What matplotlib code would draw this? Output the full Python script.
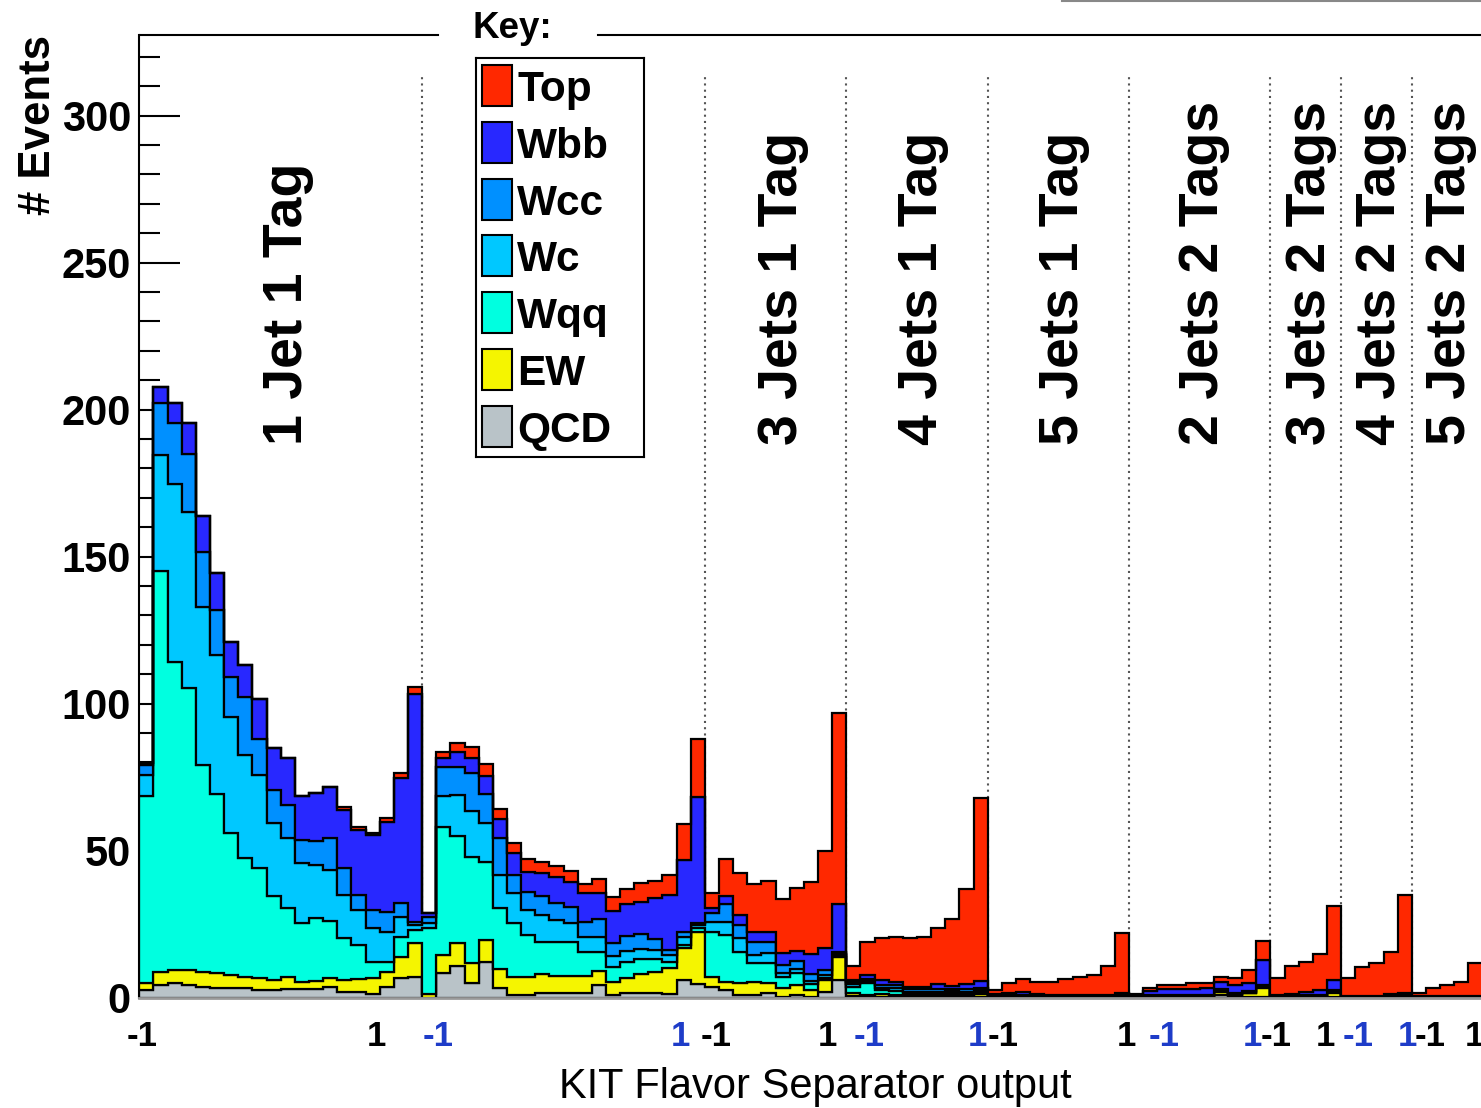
import numpy as np
import matplotlib.pyplot as plt
from matplotlib.lines import Line2D
from matplotlib.patches import Rectangle
from matplotlib.ticker import MultipleLocator

plt.rcParams['font.family'] = ['Liberation Sans', 'DejaVu Sans']

# stacked components, one value per bin (95 bins, 9 jet/tag regions)
qcd = [2.5, 4.2, 4.8, 4.2, 3.7, 3.4, 3.1, 3.1, 2.5, 2.5, 2.8, 2.8, 2.8, 3.6, 1.9, 1.9, 1.2, 3.7, 6.5, 7.1,
       0, 8.2, 10.7, 4.8, 12.2, 3.1, 0.8, 0.8, 1.4, 1.4, 1.4, 1.4, 4.3, 0.8, 1.4, 1.6, 1.6, 1.2, 5.9, 4.6,
       3.6, 2.5, 0.8, 0.8, 1.4, 0.3, 0.8, 0.3, 1.9, 5.9,
       0.5, 0.3, 0.2, 0.2, 0.1, 0.1, 0.1, 0.2, 0.1, 0.3,
       0.1, 0.1, 0.1, 0.1, 0.1, 0.1, 0.1, 0.1, 0.1, 0.1,
       0.1, 0.1, 0.1, 0.1, 0.1, 0.1, 1.0, 0.1, 0.1, 0.2,
       0.05, 0.1, 0.1, 0.1, 0.2,
       0.05, 0.05, 0.05, 0.1, 0.1,
       0.05, 0.05, 0.05, 0.05, 0.05]
ew = [2.3, 4.6, 4.5, 5.1, 5.1, 5.0, 4.5, 4.0, 4.0, 3.5, 4.3, 2.6, 2.8, 3.1, 4.0, 4.3, 5.3, 5.1, 7.4, 11.5,
      1.2, 6.2, 7.9, 6.8, 7.3, 6.5, 6.3, 6.3, 6.6, 5.9, 5.9, 5.9, 4.8, 4.6, 5.1, 6.4, 7.2, 8.7, 11.1, 17.8,
      3.5, 2.9, 4.0, 4.6, 3.4, 3.0, 3.4, 2.2, 4.0, 8.0,
      0.9, 0.7, 1.0, 0.8, 0.4, 0.4, 0.4, 0.8, 0.4, 0.9,
      0.15, 0.15, 0.15, 0.15, 0.15, 0.15, 0.15, 0.15, 0.15, 0.15,
      0.15, 0.2, 0.2, 0.2, 0.2, 0.2, 1.0, 0.7, 1.3, 2.9,
      0.1, 0.2, 0.2, 0.2, 1.4,
      0.05, 0.05, 0.05, 0.2, 0.2,
      0.05, 0.05, 0.05, 0.05, 0.05]
wqq = [63.7, 136.4, 104.9, 95.9, 70.3, 60.8, 48.5, 40.5, 37.7, 28.6, 23.4, 20.1, 21.3, 19.4, 14.2, 11.7, 5.7, 3.4, 6.6, 4.4,
       22.3, 43.7, 36.3, 36.3, 26.7, 20.7, 18.1, 14.1, 11.0, 11.7, 11.7, 8.3, 6.5, 5.1, 5.5, 5.0, 4.2, 2.3, 0.8, 1.2,
       15.3, 15.9, 10.8, 6.4, 7.0, 3.7, 4.0, 2.0, 0.6, 0.5,
       2.1, 3.8, 1.2, 1.2, 0.7, 0.7, 0.7, 0.5, 0.7, 0.8,
       0.15, 0.15, 0.15, 0.15, 0.15, 0.15, 0.15, 0.15, 0.15, 0.15,
       0.15, 0.15, 0.2, 0.2, 0.2, 0.2, 0.3, 0.2, 0.3, 0.4,
       0.15, 0.2, 0.2, 0.2, 0.3,
       0.1, 0.1, 0.1, 0.2, 0.2,
       0.1, 0.1, 0.1, 0.1, 0.1]
wc = [7.2, 39.3, 60.3, 60.0, 53.8, 47.3, 39.4, 34.9, 31.5, 24.6, 23.6, 20.1, 18.2, 17.3, 14.7, 11.9, 11.3, 10.2, 7.0, 1.7,
      1.7, 10.4, 14.0, 15.7, 13.0, 11.4, 10.2, 8.6, 9.1, 7.4, 6.2, 5.1, 5.1, 3.6, 3.8, 3.5, 3.0, 2.3, 2.9, 0.9,
      3.4, 4.5, 4.5, 2.6, 3.2, 1.5, 1.6, 1.0, 1.0, 0.5,
      1.1, 0.7, 1.0, 1.0, 0.8, 0.8, 0.8, 0.7, 0.8, 0.6,
      0.15, 0.15, 0.15, 0.15, 0.15, 0.15, 0.15, 0.15, 0.15, 0.15,
      0.15, 0.15, 0.2, 0.2, 0.2, 0.2, 0.3, 0.2, 0.2, 0.3,
      0.15, 0.2, 0.1, 0.2, 0.2,
      0.1, 0.1, 0.1, 0.2, 0.3,
      0.1, 0.1, 0.1, 0.1, 0.1]
wcc = [3.4, 17.8, 20.8, 19.6, 18.5, 15.3, 13.6, 19.8, 12.4, 11.4, 11.4, 8.0, 8.2, 10.7, 9.1, 5.1, 6.3, 6.8, 4.5, 1.1,
       2.3, 10.0, 9.4, 12.6, 10.0, 12.4, 6.3, 6.2, 6.4, 5.6, 5.7, 5.1, 6.0, 4.5, 5.1, 5.0, 3.8, 1.7, 1.7, 0.7,
       2.8, 6.0, 4.6, 4.6, 4.0, 2.5, 2.7, 2.5, 1.8, 0.7,
       0.7, 0.8, 1.0, 1.0, 0.8, 0.8, 0.8, 0.6, 0.8, 0.6,
       0.15, 0.15, 0.15, 0.15, 0.15, 0.15, 0.15, 0.15, 0.15, 0.15,
       0.15, 0.2, 0.2, 0.2, 0.2, 0.2, 0.4, 0.2, 0.2, 0.4,
       0.15, 0.2, 0.2, 0.2, 0.3,
       0.1, 0.1, 0.1, 0.2, 0.3,
       0.1, 0.1, 0.1, 0.1, 0.1]
wbb = [0.8, 5.4, 7.0, 10.5, 12.3, 12.7, 11.9, 10.8, 13.3, 14.2, 15.8, 15.0, 16.4, 17.4, 19.8, 22.1, 25.5, 30.6, 42.5, 77.4,
       1.1, 2.9, 5.1, 5.2, 6.1, 6.5, 7.3, 6.8, 7.7, 9.1, 8.5, 9.6, 8.7, 10.9, 10.9, 11.0, 13.9, 18.6, 24.4, 42.9,
       1.9, 2.7, 3.4, 3.4, 3.4, 4.2, 3.4, 6.8, 7.4, 16.2,
       0.7, 1.5, 1.4, 1.2, 0.9, 0.9, 1.7, 1.2, 1.7, 2.3,
       0.5, 0.7, 1.3, 0.5, 0.1, 0.1, 0.1, 0.1, 0.3, 0.7,
       0.3, 1.5, 1.9, 1.9, 2.1, 2.3, 2.4, 2.8, 2.9, 8.5,
       0.2, 0.2, 1.1, 1.5, 3.6,
       0.1, 0.1, 0.1, 0.2, 0.3,
       0.1, 0.1, 0.1, 0.1, 0.1]
top = [0, 0, 0, 0, 0, 0, 0, 0, 0, 0, 0, 0, 0, 0, 1.2, 1.1, 0.8, 1.1, 1.7, 2.3,
       0.3, 2.0, 3.0, 3.7, 4.0, 3.5, 3.7, 4.2, 4.0, 3.7, 3.7, 3.1, 4.9, 4.8, 5.0, 6.3, 6.0, 6.9, 12.2, 19.8,
       5.2, 12.5, 14.1, 16.2, 17.3, 18.2, 21.2, 24.6, 33.2, 64.9,
       4.7, 11.2, 14.3, 15.3, 16.4, 17.0, 19.0, 22.6, 32.3, 62.2,
       1.3, 3.4, 4.3, 4.2, 4.6, 5.4, 6.3, 6.9, 9.7, 20.4,
       0.2, 1.1, 1.4, 1.4, 1.8, 1.6, 1.7, 2.3, 4.3, 6.6,
       5.7, 9.6, 10.3, 12.4, 25.2,
       6.3, 10.0, 11.3, 14.5, 33.5,
       1.1, 2.9, 3.7, 4.9, 11.3]

names = ['QCD', 'EW', 'Wqq', 'Wc', 'Wcc', 'Wbb', 'Top']
colors = ['#B9C3C8', '#F5F500', '#00FFE0', '#00C8FF', '#0090FF', '#2828FF', '#FF2800']

region_edges = [20, 40, 50, 60, 70, 80, 85, 90]
region_labels = ['1 Jet 1 Tag', '3 Jets 1 Tag', '4 Jets 1 Tag', '5 Jets 1 Tag',
                 '2 Jets 2 Tags', '3 Jets 2 Tags', '4 Jets 2 Tags', '5 Jets 2 Tags']
region_label_x = [11.5, 46.5, 56.4, 66.4, 76.3, 83.85, 88.8, 93.75]

xtick_pos = [0.2, 16.75, 21.1, 38.3, 40.8, 48.7, 51.6, 59.3, 61.1, 69.8,
             72.5, 78.75, 80.4, 83.9, 86.2, 89.7, 91.3, 94.4]
xtick_lab = ['-1', '1'] * 9
xtick_col = ['black', 'black', '#1E3CC8', '#1E3CC8'] * 4 + ['black', 'black']

W, H = 1481, 1108
fig = plt.figure(figsize=(W / 100, H / 100), dpi=100)
ax = fig.add_axes([139.3 / W, 1 - 997.5 / H, (1482.6 - 139.3) / W, (997.5 - 35) / H])

edges = np.arange(len(qcd) + 1)
base = np.zeros(len(qcd))
for vals, c in zip([qcd, ew, wqq, wc, wcc, wbb, top], colors):
    upper = base + np.array(vals)
    ax.stairs(upper, edges, baseline=base, fill=True, facecolor=c,
              edgecolor='black', lw=1.6, zorder=2)
    base = upper

ax.vlines(region_edges, 0, 313, colors='#555555', linestyles=(0, (1, 2)), lw=1.5, zorder=1)

for x, lab in zip(region_label_x, region_labels):
    ax.text(x, 188, lab, rotation=90, rotation_mode='anchor', ha='left', va='baseline',
            fontsize=40, fontweight='bold', zorder=3)

ax.set_xlim(0, 95)
ax.set_ylim(0, 327.4)
for s in ['top', 'right']:
    ax.spines[s].set_visible(False)
ax.spines['left'].set_linewidth(1.5)
ax.spines['bottom'].set_color('#999999')
ax.spines['bottom'].set_linewidth(2)

ax.set_yticks(range(0, 301, 50))
ax.set_yticklabels([str(v) for v in range(0, 301, 50)], fontweight='bold')
ax.yaxis.set_minor_locator(MultipleLocator(10))
ax.tick_params(axis='y', which='major', direction='in', length=29.5, width=1.5, labelsize=30, pad=6)
ax.tick_params(axis='y', which='minor', direction='in', length=15, width=1.5)

ax.set_xticks(xtick_pos)
ax.set_xticklabels(xtick_lab, fontweight='bold')
ax.tick_params(axis='x', length=0, pad=16, labelsize=25)
for lab, c in zip(ax.get_xticklabels(), xtick_col):
    lab.set_color(c)

# legend box ("Key:")
lax = fig.add_axes([476 / W, 1 - 457 / H, 168 / W, 399 / H])
lax.set_xlim(0, 168)
lax.set_ylim(399, 0)
lax.set_xticks([])
lax.set_yticks([])
for s in lax.spines.values():
    s.set_linewidth(1.5)
for i, (name, c) in enumerate(zip(names[::-1], colors[::-1])):
    y0 = 7 + 56.8 * i
    lax.add_patch(Rectangle((6, y0), 30, 41, facecolor=c, edgecolor='black', lw=1.5))
    lax.text(41, y0 + 36, name, fontsize=30.5, fontweight='bold', va='baseline')

fig.text(512 / W, 1 - 38 / H, 'Key:', fontsize=26.5, fontweight='bold', ha='center', va='baseline')
fig.add_artist(Line2D([140 / W, 438 / W], [1 - 35 / H] * 2, color='black', lw=1.5))
fig.add_artist(Line2D([598 / W, 1], [1 - 35 / H] * 2, color='black', lw=1.5))
fig.add_artist(Line2D([1062 / W, 1], [1 - 1 / H] * 2, color='#888888', lw=1.5))

fig.text(50 / W, 1 - 35 / H, '# Events', rotation=90, rotation_mode='anchor', ha='right',
         va='baseline', fontsize=31.5, fontweight='bold')
fig.text(815 / W, 1 - 1098 / H, 'KIT Flavor Separator output', ha='center', va='baseline', fontsize=30)

fig.savefig('out.png', dpi=100)
